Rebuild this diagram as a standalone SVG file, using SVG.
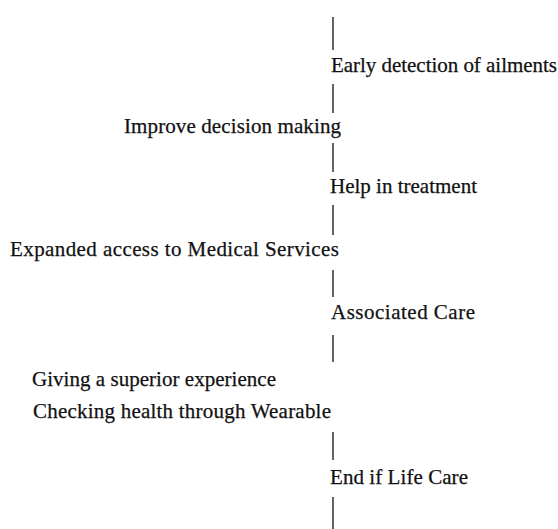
<svg xmlns="http://www.w3.org/2000/svg" width="558" height="529" viewBox="0 0 558 529">
  <style>
    .lbl { font-family: 'Liberation Serif', 'Times New Roman', serif; font-size: 21px; fill: #111; stroke: #111; stroke-width: 0.25; }
    .seg { stroke: #222; stroke-width: 1.4; fill: none; }
  </style>
  <rect width="558" height="529" fill="#fff"/>
  <g id="connectors">
    <line class="seg" x1="333" y1="17" x2="333" y2="50"/>
    <line class="seg" x1="333" y1="84" x2="333" y2="113"/>
    <line class="seg" x1="333" y1="143" x2="333" y2="172"/>
    <line class="seg" x1="333" y1="205" x2="333" y2="235"/>
    <line class="seg" x1="333" y1="270" x2="333" y2="297"/>
    <line class="seg" x1="333" y1="335" x2="333" y2="362"/>
    <line class="seg" x1="333" y1="432" x2="333" y2="460"/>
    <line class="seg" x1="333" y1="497" x2="333" y2="529"/>
  </g>
  <g id="early-detection"><text class="lbl" x="331" y="72" textLength="226" lengthAdjust="spacing">Early detection of ailments</text></g>
  <g id="decision-making"><text class="lbl" x="124" y="133" textLength="217" lengthAdjust="spacing">Improve decision making</text></g>
  <g id="treatment"><text class="lbl" x="330" y="193" textLength="147" lengthAdjust="spacing">Help in treatment</text></g>
  <g id="expanded-access"><text class="lbl" x="10" y="256" textLength="329" lengthAdjust="spacing">Expanded access to Medical Services</text></g>
  <g id="associated-care"><text class="lbl" x="331" y="319" textLength="144" lengthAdjust="spacing">Associated Care</text></g>
  <g id="superior-experience"><text class="lbl" x="32" y="386" textLength="244" lengthAdjust="spacing">Giving a superior experience</text></g>
  <g id="wearable"><text class="lbl" x="33" y="418" textLength="298" lengthAdjust="spacing">Checking health through Wearable</text></g>
  <g id="end-of-life"><text class="lbl" x="330" y="484" textLength="138" lengthAdjust="spacing">End if Life Care</text></g>
</svg>
